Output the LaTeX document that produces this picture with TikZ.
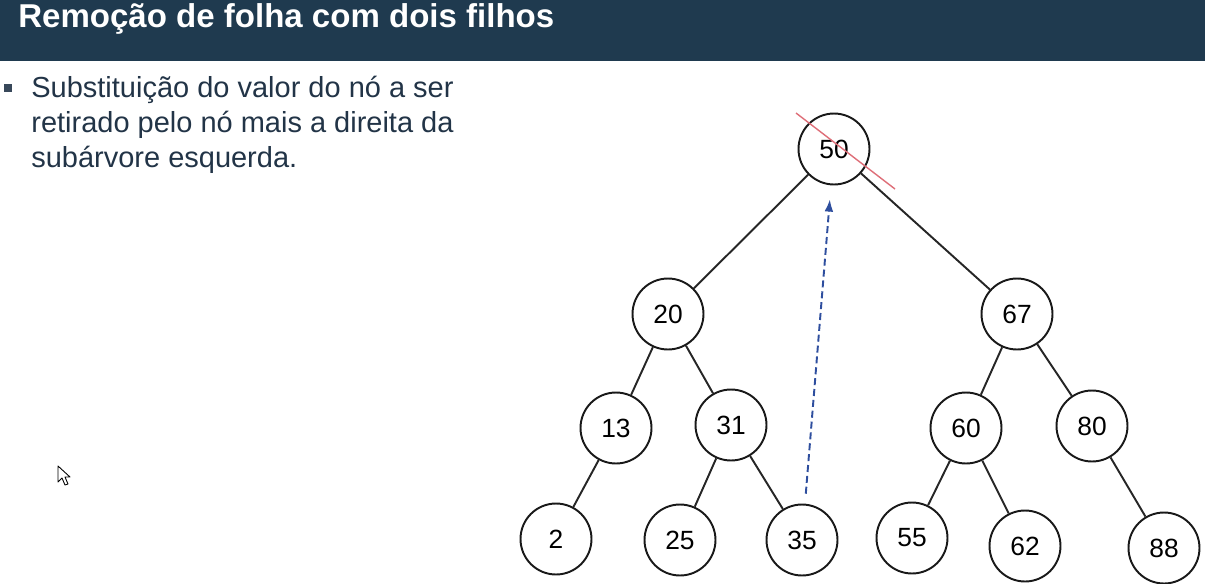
\documentclass[tikz,border=0pt]{standalone}
\usepackage{fontspec}
\setmainfont{Liberation Sans}
\usetikzlibrary{arrows.meta}

\definecolor{headbg}{RGB}{31,58,79}
\definecolor{bodytxt}{RGB}{34,52,71}
\definecolor{strikered}{RGB}{222,110,120}
\definecolor{moveblue}{RGB}{46,78,158}

\begin{document}
\begin{tikzpicture}[x=0.02cm,y=-0.02cm,
  nd/.style={circle,draw=black!90,line width=1.1pt,minimum size=1.42cm,inner sep=0pt,
    font=\fontsize{15}{17}\selectfont},
  edge/.style={line width=1.1pt,draw=black!85},
  line/.style={anchor=base west,inner sep=0pt,text=bodytxt,font=\fontsize{16.5}{19.8}\selectfont},
  strike/.style={draw=strikered,line width=0.8pt},
  move/.style={draw=moveblue,line width=1.1pt,dash pattern=on 4pt off 2.2pt,
    -{Latex[length=7pt,width=5pt]},shorten <=0.2cm,shorten >=0.28cm}]
\useasboundingbox (0,0) rectangle (1205,583);

\fill[headbg] (0,0) rectangle (1205,61);
\node[anchor=base west,inner sep=0pt,text=white,font=\fontsize{18.8}{22}\selectfont\bfseries]
  (title) at (18,27) {Remoção de folha com dois filhos};

\fill[bodytxt!90] (4,84) rectangle (12,92);
\node[line] (l1) at (31,97) {Substituição do valor do nó a ser};
\node[line] (l2) at (31,132) {retirado pelo nó mais a direita da};
\node[line] (l3) at (31,167) {subárvore esquerda.};

% pointer
\draw[fill=white,line width=0.5pt,line join=round] (58,466) -- (58,482) -- (62,478) -- (65,485)
  -- (68,484) -- (65,477) -- (70,477) -- cycle;

% tree
\node[nd] (n50) at (834,149) {50};
\node[nd] (n20) at (668,314) {20};
\node[nd] (n67) at (1017,314) {67};
\node[nd] (n13) at (616,428) {13};
\node[nd] (n31) at (731,425) {31};
\node[nd] (n60) at (966,428) {60};
\node[nd] (n80) at (1092,426) {80};
\node[nd] (n2) at (556,539) {2};
\node[nd] (n25) at (680,540) {25};
\node[nd] (n35) at (802,540) {35};
\node[nd] (n55) at (912,538) {55};
\node[nd] (n62) at (1025,546) {62};
\node[nd] (n88) at (1164,548) {88};

\draw[edge] (n50) -- (n20);
\draw[edge] (n50) -- (n67);
\draw[edge] (n20) -- (n13);
\draw[edge] (n20) -- (n31);
\draw[edge] (n67) -- (n60);
\draw[edge] (n67) -- (n80);
\draw[edge] (n13) -- (n2);
\draw[edge] (n31) -- (n25);
\draw[edge] (n31) -- (n35);
\draw[edge] (n60) -- (n55);
\draw[edge] (n60) -- (n62);
\draw[edge] (n80) -- (n88);

\coordinate (s1) at (796,113);
\coordinate (s2) at (895,189);
\draw[strike] (s1) -- (s2);

\draw[move] (n35) -- (n50);
\end{tikzpicture}
\end{document}
